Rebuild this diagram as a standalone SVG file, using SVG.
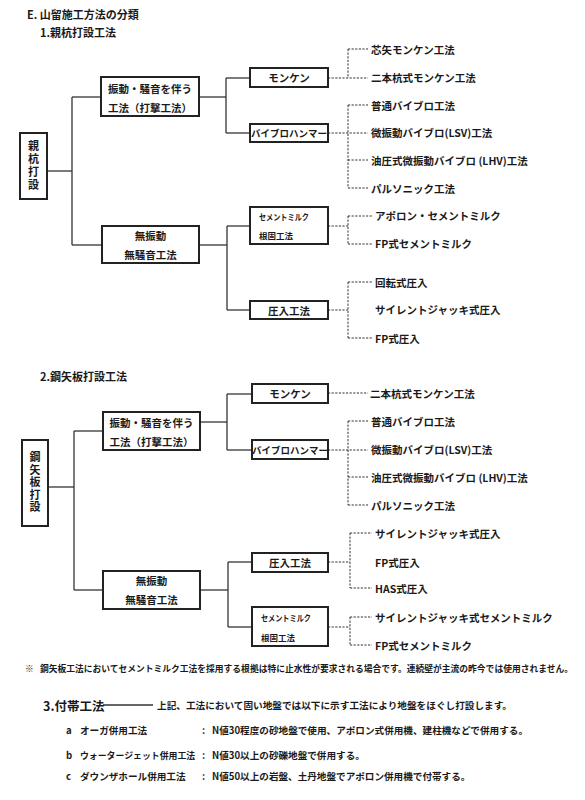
<svg xmlns="http://www.w3.org/2000/svg" width="585" height="800" viewBox="0 0 585 800">
<style>
text{font-family:"Noto Sans CJK JP","Noto Sans CJK SC",sans-serif;fill:#1a1a1a;font-weight:bold;dominant-baseline:central}
.t{font-size:11px}
.v{font-size:11px;writing-mode:vertical-rl;text-anchor:middle}
.b{font-size:10.5px}
.i{font-size:10.5px}
.s{font-size:8.5px}
.f{font-size:8.7px}
.g{font-size:9.6px}
.c{text-anchor:middle}
rect{fill:#fff;stroke:#222;stroke-width:2}
.ln line,.ln polyline{stroke:#333;stroke-width:1.3;fill:none}
.ln .d{stroke:#333;stroke-width:1;stroke-dasharray:2.2 1.4}
</style>
<rect x="0" y="0" width="585" height="800" style="fill:#fff;stroke:none"/>
<g id="titles">
<text class="t" x="27" y="14">E. 山留施工方法の分類</text>
<text class="t" x="40" y="32">1.親杭打設工法</text>
<text class="t" x="40" y="376">2.鋼矢板打設工法</text>
</g>
<g class="ln" id="connectors">
<!-- section 1 solid -->
<line x1="47" y1="171" x2="72" y2="171"/>
<line x1="72" y1="97" x2="72" y2="245"/>
<line x1="72" y1="97" x2="101" y2="97"/>
<line x1="72" y1="245" x2="102" y2="245"/>
<line x1="199" y1="97" x2="226" y2="97"/>
<line x1="226" y1="78" x2="226" y2="133"/>
<line x1="226" y1="78" x2="250" y2="78"/>
<line x1="226" y1="133" x2="250" y2="133"/>
<line x1="199" y1="245" x2="227" y2="245"/>
<line x1="227" y1="226" x2="227" y2="310"/>
<line x1="227" y1="226" x2="250" y2="226"/>
<line x1="227" y1="310" x2="250" y2="310"/>
<!-- section 1 dashed -->
<line class="d" x1="328" y1="78" x2="368" y2="78"/>
<line class="d" x1="348" y1="49" x2="348" y2="78"/>
<line class="d" x1="348" y1="49" x2="368" y2="49"/>
<line class="d" x1="328" y1="133" x2="368" y2="133"/>
<line class="d" x1="348" y1="105" x2="348" y2="188"/>
<line class="d" x1="348" y1="105" x2="368" y2="105"/>
<line class="d" x1="348" y1="160" x2="368" y2="160"/>
<line class="d" x1="348" y1="188" x2="368" y2="188"/>
<line class="d" x1="328" y1="226" x2="348" y2="226"/>
<line class="d" x1="348" y1="216" x2="348" y2="244"/>
<line class="d" x1="348" y1="216" x2="372" y2="216"/>
<line class="d" x1="348" y1="244" x2="372" y2="244"/>
<line class="d" x1="328" y1="310" x2="348" y2="310"/>
<line class="d" x1="348" y1="282" x2="348" y2="338"/>
<line class="d" x1="348" y1="282" x2="372" y2="282"/>
<line class="d" x1="348" y1="338" x2="372" y2="338"/>
<!-- section 2 solid -->
<line x1="48" y1="487" x2="74" y2="487"/>
<line x1="74" y1="431" x2="74" y2="590"/>
<line x1="74" y1="431" x2="103" y2="431"/>
<line x1="74" y1="590" x2="103" y2="590"/>
<line x1="200" y1="422" x2="227" y2="422"/>
<line x1="227" y1="394" x2="227" y2="450"/>
<line x1="227" y1="394" x2="252" y2="394"/>
<line x1="227" y1="450" x2="252" y2="450"/>
<line x1="200" y1="590" x2="228" y2="590"/>
<line x1="228" y1="562" x2="228" y2="627"/>
<line x1="228" y1="562" x2="252" y2="562"/>
<line x1="228" y1="627" x2="252" y2="627"/>
<!-- section 2 dashed -->
<line class="d" x1="328" y1="393" x2="368" y2="393"/>
<line class="d" x1="328" y1="450" x2="368" y2="450"/>
<line class="d" x1="348" y1="421" x2="348" y2="505"/>
<line class="d" x1="348" y1="421" x2="368" y2="421"/>
<line class="d" x1="348" y1="477" x2="368" y2="477"/>
<line class="d" x1="348" y1="505" x2="368" y2="505"/>
<line class="d" x1="328" y1="562" x2="350" y2="562"/>
<line class="d" x1="350" y1="533" x2="350" y2="588"/>
<line class="d" x1="350" y1="533" x2="372" y2="533"/>
<line class="d" x1="350" y1="588" x2="372" y2="588"/>
<line class="d" x1="328" y1="627" x2="350" y2="627"/>
<line class="d" x1="350" y1="617" x2="350" y2="645"/>
<line class="d" x1="350" y1="617" x2="372" y2="617"/>
<line class="d" x1="350" y1="645" x2="372" y2="645"/>
<!-- section 3 -->
<line x1="103" y1="705" x2="153" y2="705"/>
</g>
<!-- section 1 nodes -->
<g id="oyakui">
<rect x="20" y="133" width="27" height="66"/>
<text class="v" x="33.5" y="166" style="letter-spacing:2px">親杭打設</text>
</g>
<g id="s1-shindo">
<rect x="101" y="77" width="98" height="39"/>
<text class="b c" x="150" y="88">振動・騒音を伴う</text>
<text class="b c" x="150" y="107">工法（打撃工法）</text>
</g>
<g id="s1-monken">
<rect x="250" y="68" width="78" height="19"/>
<text class="b c" x="289" y="77.5">モンケン</text>
</g>
<g id="s1-vibro">
<rect x="250" y="124" width="78" height="18"/>
<text class="c" x="289" y="133" style="font-size:9.5px">バイブロハンマー</text>
</g>
<g id="s1-mushindo">
<rect x="102" y="226" width="97" height="37"/>
<text class="b c" x="150.5" y="235">無振動</text>
<text class="b c" x="150.5" y="254">無騒音工法</text>
</g>
<g id="s1-cement">
<rect x="250" y="207" width="78" height="37"/>
<text class="s" x="259" y="216" textLength="50" lengthAdjust="spacingAndGlyphs">セメントミルク</text>
<text class="s" x="259" y="235">根固工法</text>
</g>
<g id="s1-atsunyu">
<rect x="250" y="301" width="78" height="18"/>
<text class="b c" x="289" y="310">圧入工法</text>
</g>
<g id="s1-items">
<text class="i" x="371" y="49">芯矢モンケン工法</text>
<text class="i" x="371" y="77">二本杭式モンケン工法</text>
<text class="i" x="371" y="105">普通バイブロ工法</text>
<text class="i" x="371" y="132">微振動バイブロ(LSV)工法</text>
<text class="i" x="371" y="160">油圧式微振動バイブロ (LHV)工法</text>
<text class="i" x="371" y="188">パルソニック工法</text>
<text class="i" x="375" y="215">アポロン・セメントミルク</text>
<text class="i" x="375" y="243">FP式セメントミルク</text>
<text class="i" x="375" y="282">回転式圧入</text>
<text class="i" x="375" y="309">サイレントジャッキ式圧入</text>
<text class="i" x="375" y="338">FP式圧入</text>
</g>
<!-- section 2 nodes -->
<g id="koyaita">
<rect x="22" y="440" width="26" height="86"/>
<text class="v" x="35" y="483" style="letter-spacing:1.5px">鋼矢板打設</text>
</g>
<g id="s2-shindo">
<rect x="103" y="412" width="97" height="38"/>
<text class="b c" x="151.5" y="422">振動・騒音を伴う</text>
<text class="b c" x="151.5" y="441">工法（打撃工法）</text>
</g>
<g id="s2-monken">
<rect x="252" y="384" width="76" height="19"/>
<text class="b c" x="290" y="393.5">モンケン</text>
</g>
<g id="s2-vibro">
<rect x="252" y="440" width="76" height="19"/>
<text class="c" x="290" y="449.5" style="font-size:9.5px">バイブロハンマー</text>
</g>
<g id="s2-mushindo">
<rect x="103" y="571" width="97" height="38"/>
<text class="b c" x="151.5" y="580">無振動</text>
<text class="b c" x="151.5" y="599">無騒音工法</text>
</g>
<g id="s2-atsunyu">
<rect x="252" y="553" width="76" height="19"/>
<text class="b c" x="290" y="562.5">圧入工法</text>
</g>
<g id="s2-cement">
<rect x="252" y="607" width="76" height="39"/>
<text class="s" x="261" y="617" textLength="50" lengthAdjust="spacingAndGlyphs">セメントミルク</text>
<text class="s" x="261" y="637">根固工法</text>
</g>
<g id="s2-items">
<text class="i" x="370" y="393">二本杭式モンケン工法</text>
<text class="i" x="371" y="421">普通バイブロ工法</text>
<text class="i" x="371" y="449">微振動バイブロ(LSV)工法</text>
<text class="i" x="371" y="477">油圧式微振動バイブロ (LHV)工法</text>
<text class="i" x="371" y="505">パルソニック工法</text>
<text class="i" x="375" y="533">サイレントジャッキ式圧入</text>
<text class="i" x="375" y="562">FP式圧入</text>
<text class="i" x="375" y="588">HAS式圧入</text>
<text class="i" x="375" y="617">サイレントジャッキ式セメントミルク</text>
<text class="i" x="375" y="645">FP式セメントミルク</text>
</g>
<!-- footnote and section 3 -->
<g id="note">
<text class="f" x="25" y="668">※</text>
<text class="f" x="40" y="668" textLength="533" lengthAdjust="spacingAndGlyphs">鋼矢板工法においてセメントミルク工法を採用する根拠は特に止水性が要求される場合です。連続壁が主流の昨今では使用されません。</text>
</g>
<g id="futai">
<text x="43" y="705" style="font-size:12.5px">3.付帯工法</text>
<text class="g" x="157" y="705" textLength="355" lengthAdjust="spacingAndGlyphs">上記、工法において固い地盤では以下に示す工法により地盤をほぐし打設します。</text>
<text class="g" x="66" y="730">a</text>
<text class="g" x="80" y="730">オーガ併用工法</text>
<text class="g" x="202" y="730">:</text>
<text class="g" x="212" y="730" textLength="316" lengthAdjust="spacingAndGlyphs">N値30程度の砂地盤で使用、アポロン式併用機、建柱機などで併用する。</text>
<text class="g" x="66" y="755">b</text>
<text x="80" y="755" style="font-size:8.9px">ウォータージェット併用工法</text>
<text class="g" x="202" y="755">:</text>
<text class="g" x="212" y="755">N値30以上の砂礫地盤で併用する。</text>
<text class="g" x="66" y="776">c</text>
<text class="g" x="80" y="776">ダウンザホール併用工法</text>
<text class="g" x="202" y="776">:</text>
<text class="g" x="212" y="776">N値50以上の岩盤、土丹地盤でアポロン併用機で付帯する。</text>
</g>
</svg>
